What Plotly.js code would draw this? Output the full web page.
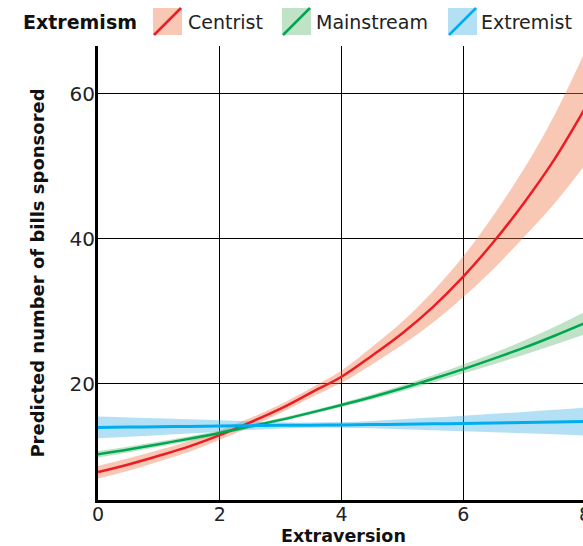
<!DOCTYPE html>
<html>
<head>
<meta charset="utf-8">
<script src="https://cdn.plot.ly/plotly-3.0.1.min.js"></script>
<style>
html,body{margin:0;padding:0;overflow:hidden;background:#fff;}
#chart{width:600px;height:546px;}
</style>
</head>
<body>
<div id="chart"></div>
<script>
// ---- data ----
const extraversion = [0,0.5,1,1.5,2,2.5,3,3.5,4,4.5,5,5.5,6,6.5,7,7.5,8];

const centristMean  = [7.85,8.9,10.1,11.4,12.95,14.7,16.6,18.8,21.0,23.9,27.0,30.6,34.8,39.6,45.0,51.0,58.0];
const centristLower = [6.95,8.05,9.3,10.65,12.3,14.1,16.0,18.15,20.15,22.7,25.4,28.45,32.0,35.9,40.3,44.9,50.2];
const centristUpper = [8.7,9.75,10.9,12.15,13.6,15.3,17.2,19.45,21.85,25.1,28.6,32.75,37.6,43.3,49.7,57.1,65.8];

const mainstreamMean  = [10.3,10.97,11.7,12.45,13.25,14.15,15.05,16.05,17.1,18.2,19.4,20.7,22.05,23.5,25.0,26.65,28.4];
const mainstreamLower = [9.85,10.55,11.33,12.11,12.96,13.9,14.81,15.81,16.83,17.87,18.99,20.2,21.43,22.72,24.03,25.42,26.84];
const mainstreamUpper = [10.75,11.39,12.07,12.79,13.54,14.4,15.29,16.29,17.37,18.53,19.81,21.2,22.67,24.28,25.98,27.88,29.96];

const extremistMean  = [14.0,14.05,14.1,14.15,14.2,14.25,14.3,14.32,14.35,14.4,14.45,14.5,14.55,14.62,14.68,14.75,14.82];
const extremistLower = [12.5,12.72,12.93,13.16,13.42,13.65,13.87,13.96,13.96,13.9,13.77,13.63,13.49,13.35,13.21,13.05,12.9];
const extremistUpper = [15.5,15.38,15.27,15.14,14.98,14.85,14.73,14.68,14.74,14.9,15.13,15.37,15.61,15.89,16.15,16.45,16.75];

const groups = ["Centrist","Mainstream","Extremist"];
const legendTitle = "Extremism";
const xTitle = "Extraversion";
const yTitle = "Predicted number of bills sponsored";
const xTicks = [0,2,4,6,8];
const yTicks = [20,40,60];

// ---- styles ----
const lineColors = ["#ed1c24","#00a651","#00aeef"];
const bandColors = ["rgba(240,118,68,0.4)","rgba(98,185,118,0.4)","rgba(68,178,230,0.4)"];
const swatchColors = ["#f9c8b4","#c0e3c8","#b4e0f5"];
const FONT = "DejaVu Sans, sans-serif";

const W = 600, H = 546;
const M = {l:98, r:15, t:46, b:46};
const PW = W - M.l - M.r, PH = H - M.t - M.b;
const px2x = p => (p - M.l) / PW;
const py2y = p => (H - M.b - p) / PH;

const means = [centristMean, mainstreamMean, extremistMean];
const lowers = [centristLower, mainstreamLower, extremistLower];
const uppers = [centristUpper, mainstreamUpper, extremistUpper];

const traces = [];
for (let i = 0; i < 3; i++) {
  traces.push({x: extraversion, y: lowers[i], type:'scatter', mode:'lines',
    line:{width:0, shape:'spline', color:bandColors[i]}, hoverinfo:'skip', showlegend:false});
  traces.push({x: extraversion, y: uppers[i], type:'scatter', mode:'lines', fill:'tonexty',
    fillcolor: bandColors[i], line:{width:0, shape:'spline', color:bandColors[i]},
    hoverinfo:'skip', showlegend:false});
}
for (let i = 0; i < 3; i++) {
  traces.push({x: extraversion, y: means[i], type:'scatter', mode:'lines', name: groups[i],
    line:{width: i===2 ? 3 : 2.5, color: lineColors[i], shape:'spline'}, showlegend:false});
}

// manual legend
const shapes = [];
const annotations = [];
const swX = [153, 282, 448];
const txX = [186, 314, 479];
const swTop = 8, swBot = 35, swW = 29;
for (let i = 0; i < 3; i++) {
  shapes.push({type:'rect', xref:'paper', yref:'paper',
    x0: px2x(swX[i]), x1: px2x(swX[i]+swW), y0: py2y(swBot), y1: py2y(swTop),
    fillcolor: swatchColors[i], line:{width:0}});
  shapes.push({type:'line', xref:'paper', yref:'paper',
    x0: px2x(swX[i]+1), y0: py2y(swBot), x1: px2x(swX[i]+swW-1), y1: py2y(swTop),
    line:{color: lineColors[i], width: 2.5}});
  annotations.push({xref:'paper', yref:'paper', x: px2x(txX[i]), y: py2y(21.5),
    xanchor:'left', yanchor:'middle', showarrow:false, text: groups[i],
    font:{family:FONT, size:19, color:'#222'}});
}
annotations.push({xref:'paper', yref:'paper', x: px2x(21), y: py2y(21.5),
  xanchor:'left', yanchor:'middle', showarrow:false, text: '<b>'+legendTitle+'</b>',
  font:{family:FONT, size:19, color:'#111'}});
// x-axis title placed precisely
annotations.push({xref:'paper', yref:'paper', x: px2x(343), y: py2y(535.5),
  xanchor:'center', yanchor:'middle', showarrow:false, borderpad:0, text: '<b>'+xTitle+'</b>',
  font:{family:FONT, size:17.5, color:'#111'}});

const layout = {
  width: W, height: H,
  margin: M,
  paper_bgcolor:'#fff', plot_bgcolor:'#fff',
  showlegend:false,
  font:{family:FONT, color:'#222'},
  xaxis:{
    range:[0,8], tickvals:xTicks, ticktext:xTicks.map(String),
    showgrid:true, gridcolor:'#000', gridwidth:1,
    zeroline:false, showline:true, linecolor:'#000', linewidth:3,
    ticks:'', ticklabelstandoff:-5,
    tickfont:{family:FONT, size:19, color:'#222'}
  },
  yaxis:{
    range:[4.0,66.6], tickvals:yTicks, ticktext:yTicks.map(String),
    showgrid:true, gridcolor:'#000', gridwidth:1,
    zeroline:false, showline:true, linecolor:'#000', linewidth:3,
    ticks:'', ticklabelstandoff:-4,
    tickfont:{family:FONT, size:20, color:'#222'},
    title:{text:'<b>'+yTitle+'</b>', font:{family:FONT, size:18, color:'#111'}, standoff:21}
  },
  shapes: shapes,
  annotations: annotations
};

Plotly.newPlot('chart', traces, layout, {staticPlot:true, displayModeBar:false});
</script>
</body>
</html>
